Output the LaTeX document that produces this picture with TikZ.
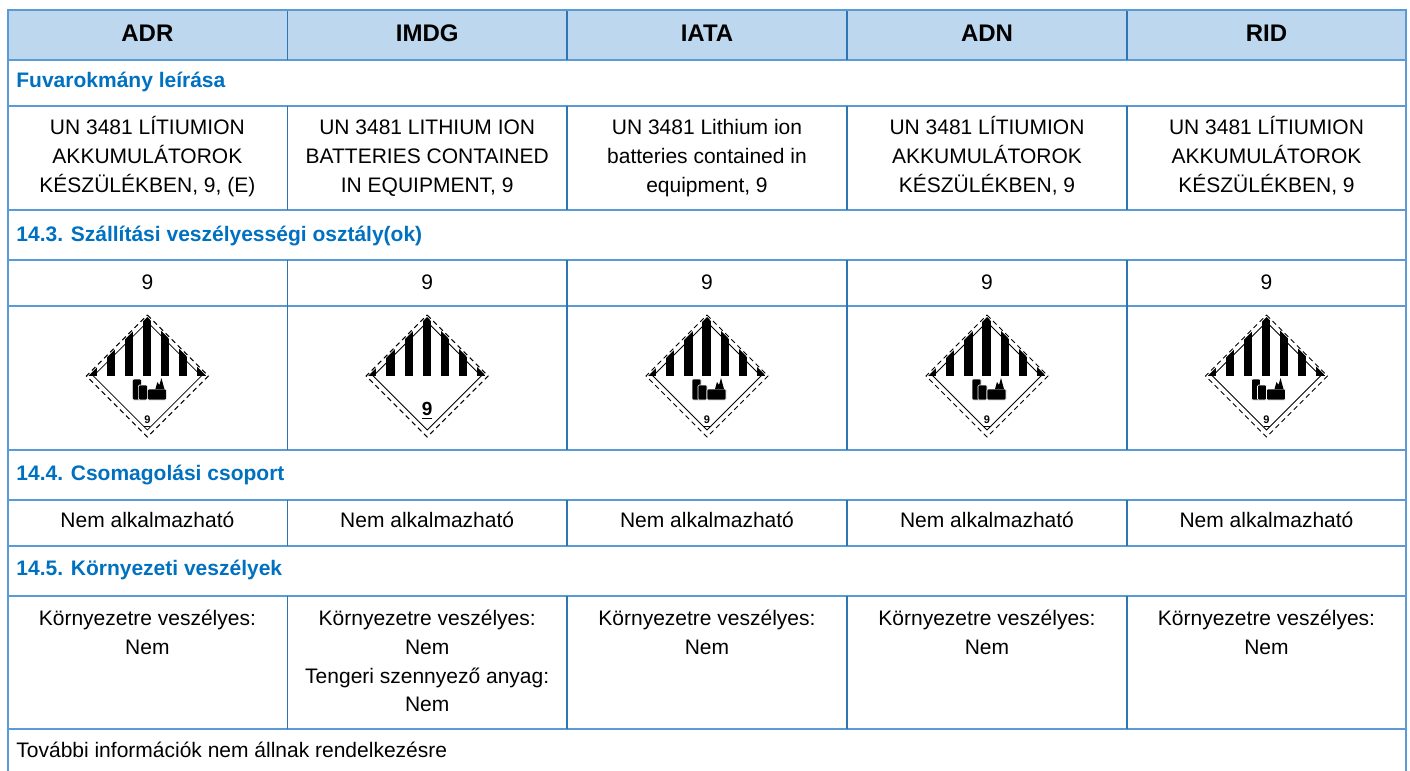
\documentclass[tikz,border=0pt]{standalone}
\usepackage{fontspec}
\setmainfont{Liberation Sans}
\usepackage{xcolor}
\usetikzlibrary{positioning}
\definecolor{gridblue}{RGB}{91,155,213}
\definecolor{darkblue}{RGB}{46,117,182}
\definecolor{headblue}{RGB}{189,215,238}
\definecolor{titleblue}{RGB}{0,112,192}

\begin{document}
\begin{tikzpicture}[
    x=0.5pt, y=-0.5pt,
    headcell/.style={anchor=base, inner sep=0pt, font=\fontsize{12}{14}\selectfont\bfseries},
    sectiontitle/.style={anchor=base west, inner sep=0pt, text=titleblue, font=\fontsize{10.5}{14.4}\selectfont\bfseries},
    cell/.style={anchor=north, inner sep=0pt, align=center, font=\fontsize{10.5}{14.4}\selectfont},
    single/.style={anchor=base, inner sep=0pt, font=\fontsize{10.5}{14.4}\selectfont},
    hline/.style={draw=gridblue, line width=1pt},
    vline/.style={draw=darkblue, line width=0.65pt},
    cellshape/.style={fill=black, draw=white, line width=0.3pt, rounded corners=0.6pt},
    class9/.pic={
        \begin{scope}
            \clip (0,-59) -- (59,0) -- (-59,0) -- cycle;
            \foreach \k in {0,2,...,12}
                \fill (-59+\k*9.077,-60) rectangle (-59+\k*9.077+8.2,0);
        \end{scope}
        \draw[line width=0.4pt] (0,-54) -- (54,0) -- (0,54) -- (-54,0) -- cycle;
        \draw[line width=0.5pt, dash pattern=on 2.5pt off 1.8pt] (0,-61) -- (61,0) -- (0,61) -- (-61,0) -- cycle;
    },
    battery9/.pic={
        \pic {class9};
        \draw[cellshape] (-15,3) rectangle (-6,24);
        \draw[cellshape] (-9,9) rectangle (0,24);
        \draw[cellshape] (0,13) rectangle (19,24);
        \fill (8,13) -- (10,6) -- (12,9) -- (14,2) -- (17,13) -- cycle;
        \node[anchor=base, inner sep=0pt, font=\fontsize{5.5}{6}\selectfont\bfseries] (num) at (0,47) {9};
        \draw[line width=0.4pt] (-3,50) -- (3,50);
    },
    plain9/.pic={
        \pic {class9};
        \node[anchor=base, inner sep=0pt, font=\fontsize{9.5}{10}\selectfont\bfseries] (num) at (0,39) {9};
        \draw[line width=0.8pt] (-5,42.5) -- (5,42.5);
    }
]
    \useasboundingbox (0,0) rectangle (1410,771);

    % Header
    \fill[headblue] (7.5,10) rectangle (1406,60);
    \node[headcell] (adr) at (147.4,41) {ADR};
    \node[headcell] (imdg) at (427.2,41) {IMDG};
    \node[headcell] (iata) at (707,41) {IATA};
    \node[headcell] (adn) at (987,41) {ADN};
    \node[headcell] (rid) at (1266.5,41) {RID};

    % Section titles
    \node[sectiontitle] (fuvar) at (16,87.3) {Fuvarokmány leírása};
    \node[sectiontitle] (osztaly) at (16,241) {14.3. Szállítási veszélyességi osztály(ok)};
    \node[sectiontitle] (csoport) at (16,480) {14.4. Csomagolási csoport};
    \node[sectiontitle] (kornyezet) at (16,575.7) {14.5. Környezeti veszélyek};

    % Shipping description
    \node[cell] (desc1) at (147.4,114) {\strut UN 3481 LÍTIUMION\\AKKUMULÁTOROK\\KÉSZÜLÉKBEN, 9, (E)};
    \node[cell] (desc2) at (427.2,114) {\strut UN 3481 LITHIUM ION\\BATTERIES CONTAINED\\IN EQUIPMENT, 9};
    \node[cell] (desc3) at (707,114) {\strut UN 3481 Lithium ion\\batteries contained in\\equipment, 9};
    \node[cell] (desc4) at (987,114) {\strut UN 3481 LÍTIUMION\\AKKUMULÁTOROK\\KÉSZÜLÉKBEN, 9};
    \node[cell] (desc5) at (1266.5,114) {\strut UN 3481 LÍTIUMION\\AKKUMULÁTOROK\\KÉSZÜLÉKBEN, 9};

    % Hazard class
    \node[single] (cls1) at (147.4,289.3) {9};
    \node[single] (cls2) at (427.2,289.3) {9};
    \node[single] (cls3) at (707,289.3) {9};
    \node[single] (cls4) at (987,289.3) {9};
    \node[single] (cls5) at (1266.5,289.3) {9};

    % Labels
    \pic (plac1) at (147.4,376) {battery9};
    \pic (plac2) at (427.2,376) {plain9};
    \pic (plac3) at (707,376) {battery9};
    \pic (plac4) at (987,376) {battery9};
    \pic (plac5) at (1266.5,376) {battery9};

    % Packing group
    \node[single] (pg1) at (147.4,527.3) {Nem alkalmazható};
    \node[single] (pg2) at (427.2,527.3) {Nem alkalmazható};
    \node[single] (pg3) at (707,527.3) {Nem alkalmazható};
    \node[single] (pg4) at (987,527.3) {Nem alkalmazható};
    \node[single] (pg5) at (1266.5,527.3) {Nem alkalmazható};

    % Environmental hazards
    \node[cell] (env1) at (147.4,605) {\strut Környezetre veszélyes:\\Nem};
    \node[cell] (env2) at (427.2,605) {\strut Környezetre veszélyes:\\Nem\\Tengeri szennyező anyag:\\Nem};
    \node[cell] (env3) at (707,605) {\strut Környezetre veszélyes:\\Nem};
    \node[cell] (env4) at (987,605) {\strut Környezetre veszélyes:\\Nem};
    \node[cell] (env5) at (1266.5,605) {\strut Környezetre veszélyes:\\Nem};

    % Further information
    \node[single, anchor=base west] (info) at (16,757.3) {További információk nem állnak rendelkezésre};

    % Grid
    \draw[hline] (7.5,60) -- (1406,60);
    \draw[hline] (7.5,106) -- (1406,106);
    \draw[hline] (7.5,210) -- (1406,210);
    \draw[hline] (7.5,260) -- (1406,260);
    \draw[hline] (7.5,306) -- (1406,306);
    \draw[hline] (7.5,450) -- (1406,450);
    \draw[hline] (7.5,500) -- (1406,500);
    \draw[hline] (7.5,545.5) -- (1406,545.5);
    \draw[hline] (7.5,596) -- (1406,596);
    \draw[hline] (7.5,729) -- (1406,729);
    \draw[vline] (287.3,10) -- (287.3,60) (287.3,106) -- (287.3,210) (287.3,260) -- (287.3,450) (287.3,500) -- (287.3,545.5) (287.3,596) -- (287.3,729);
    \draw[vline] (567,10) -- (567,60) (567,106) -- (567,210) (567,260) -- (567,450) (567,500) -- (567,545.5) (567,596) -- (567,729);
    \draw[vline] (847,10) -- (847,60) (847,106) -- (847,210) (847,260) -- (847,450) (847,500) -- (847,545.5) (847,596) -- (847,729);
    \draw[vline] (1127,10) -- (1127,60) (1127,106) -- (1127,210) (1127,260) -- (1127,450) (1127,500) -- (1127,545.5) (1127,596) -- (1127,729);
    \draw[hline] (7.5,771) -- (7.5,10) -- (1406,10) -- (1406,771);
\end{tikzpicture}
\end{document}
